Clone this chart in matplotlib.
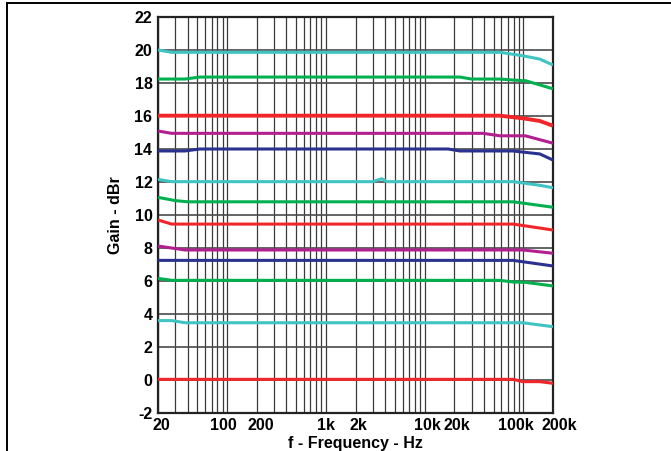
import matplotlib
matplotlib.use("Agg")
import matplotlib.pyplot as plt
from matplotlib.lines import Line2D
from matplotlib.ticker import NullFormatter

plt.rcParams['font.family'] = ['Liberation Sans', 'DejaVu Sans']

# ---- data (frequency in Hz, gain in dBr) ----
cyan20_f = [20, 27.5, 58000, 99000, 147000, 200000]
cyan20_g = [20.0, 19.86, 19.86, 19.65, 19.45, 19.09]

green18_f = [20, 37.5, 53, 22800, 30000, 58000, 99000, 105000, 200000]
green18_g = [18.24, 18.24, 18.36, 18.36, 18.24, 18.24, 18.14, 18.14, 17.65]

red16_f = [20, 58000, 73000, 99000, 147000, 200000]
red16_g = [16.02, 16.02, 15.95, 15.86, 15.70, 15.41]

mag15_f = [20, 27.5, 39000, 58000, 105000, 200000]
mag15_g = [15.09, 14.95, 14.95, 14.80, 14.80, 14.35]

navy14_f = [20, 37.5, 53, 17400, 22800, 79000, 147000, 200000]
navy14_g = [13.88, 13.88, 14.0, 14.0, 13.88, 13.88, 13.70, 13.33]

cyan12_f = [20, 27.5, 3000, 3680, 4140, 79000, 147000, 200000]
cyan12_g = [12.16, 12.02, 12.02, 12.20, 12.02, 12.02, 11.80, 11.65]

green11_f = [20, 30, 40, 79000, 200000]
green11_g = [11.07, 10.87, 10.80, 10.80, 10.47]

red9_f = [20, 27.5, 79000, 200000]
red9_g = [9.70, 9.45, 9.45, 9.09]

mag8_f = [20, 37.5, 99000, 200000]
mag8_g = [8.12, 7.88, 7.88, 7.68]

navy7_f = [20, 79000, 200000]
navy7_g = [7.25, 7.25, 6.91]

green6_f = [20, 27.5, 58000, 79000, 105000, 200000]
green6_g = [6.16, 6.04, 6.04, 5.94, 5.92, 5.70]

cyan3_f = [20, 27.5, 37.5, 99000, 200000]
cyan3_g = [3.60, 3.60, 3.47, 3.47, 3.23]

red0_f = [20, 79000, 99000, 147000, 200000]
red0_g = [0.04, 0.04, -0.10, -0.10, -0.20]

x_ticks = [20, 100, 200, 1000, 2000, 10000, 20000, 100000, 200000]
x_labels = ['20', '100', '200', '1k', '2k', '10k', '20k', '100k', '200k']
y_ticks = list(range(-2, 23, 2))

CYAN = '#3fc3c3'
GREEN = '#00b04f'
RED = '#f0262a'
MAG = '#b21f8f'
NAVY = '#2b3190'

series = [
    (cyan20_f, cyan20_g, CYAN, 2.2),
    (green18_f, green18_g, GREEN, 2.2),
    (red16_f, red16_g, RED, 2.8),
    (mag15_f, mag15_g, MAG, 2.2),
    (navy14_f, navy14_g, NAVY, 2.2),
    (cyan12_f, cyan12_g, CYAN, 2.2),
    (green11_f, green11_g, GREEN, 2.2),
    (red9_f, red9_g, RED, 2.2),
    (mag8_f, mag8_g, MAG, 2.2),
    (navy7_f, navy7_g, NAVY, 2.2),
    (green6_f, green6_g, GREEN, 2.2),
    (cyan3_f, cyan3_g, CYAN, 2.2),
    (red0_f, red0_g, RED, 2.2),
]

FS = 11.5

fig = plt.figure(figsize=(6.71, 4.51), dpi=100)
ax = fig.add_axes([158 / 671, 1 - 413 / 451, 395 / 671, 396 / 451])

ax.set_xscale('log')
ax.set_xlim(20, 200000)
ax.set_ylim(-2, 22)

# grid
ax.grid(True, which='both', axis='x', color='#3a3a3a', linewidth=0.9)
ax.grid(True, which='major', axis='y', color='#4a4a4a', linewidth=1.2)
ax.set_axisbelow(True)

for f, g, c, lw in series:
    ax.plot(f, g, color=c, linewidth=lw, solid_capstyle='butt', zorder=3)

ax.set_xticks(x_ticks)
ax.set_xticklabels([''] * len(x_ticks))
ax.xaxis.set_minor_formatter(NullFormatter())
ax.set_yticks(y_ticks)
ax.set_yticklabels([str(v) for v in y_ticks])
ax.tick_params(axis='both', which='both', length=0, labelsize=FS)
ax.tick_params(axis='y', pad=4)
for lab in ax.get_yticklabels():
    lab.set_fontweight('bold')

# x tick labels, nudged horizontally as in the reference
x_label_dx = [3, -4, 4, 0, 3, 3, 3, -7, 6]
for xv, txt, dx in zip(x_ticks, x_labels, x_label_dx):
    ax.annotate(txt, xy=(xv, 0), xycoords=('data', 'axes fraction'),
                xytext=(dx * 0.72, -3.5), textcoords='offset points',
                ha='center', va='top', fontsize=FS, fontweight='bold',
                annotation_clip=False)

for sp in ax.spines.values():
    sp.set_linewidth(1.6)
    sp.set_color('#222222')

ax.text(0.5, -23 / 396, 'f - Frequency - Hz', transform=ax.transAxes,
        ha='center', va='top', fontsize=FS, fontweight='bold')
ax.set_ylabel('Gain - dBr', fontsize=FS, fontweight='bold', labelpad=8)

# page border lines
fig.add_artist(Line2D([7.3 / 671, 1], [1 - 3.3 / 451, 1 - 3.3 / 451],
                      transform=fig.transFigure, color='black', linewidth=1.4))
fig.add_artist(Line2D([7.3 / 671, 7.3 / 671], [0, 1 - 3.3 / 451],
                      transform=fig.transFigure, color='black', linewidth=1.4))

fig.savefig('out.png', dpi=100)
